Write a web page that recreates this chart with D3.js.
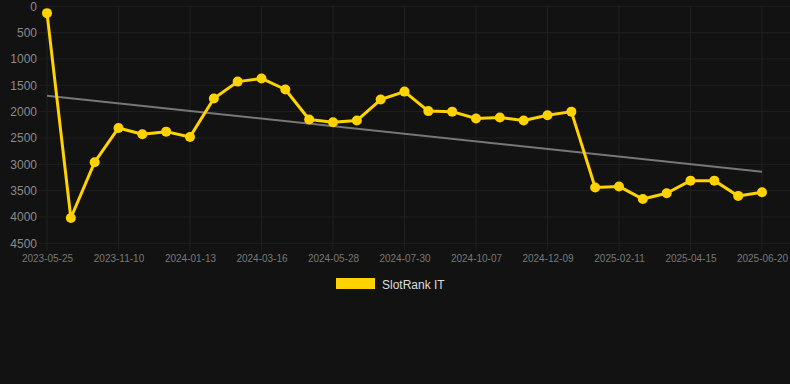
<!DOCTYPE html>
<html>
<head>
<meta charset="utf-8">
<script src="https://cdn.jsdelivr.net/npm/d3@7"></script>
<style>
  html, body { margin: 0; padding: 0; background: #121212; }
  svg { display: block; }
</style>
</head>
<body>
<svg id="chart" width="790" height="384"></svg>
<script>
// ---- data ----
const seriesName = "SlotRank IT";
const ranks = [130, 4020, 2960, 2310, 2430, 2380, 2480, 1750, 1430, 1370, 1580,
               2150, 2200, 2170, 1770, 1620, 1990, 2000, 2130, 2110, 2170, 2070,
               2000, 3440, 3420, 3660, 3550, 3310, 3310, 3600, 3530];
const tickLabels = ["2023-05-25", "2023-11-10", "2024-01-13", "2024-03-16", "2024-05-28",
                    "2024-07-30", "2024-10-07", "2024-12-09", "2025-02-11", "2025-04-15", "2025-06-20"];
const tickEvery = 3;
const yTicks = [0, 500, 1000, 1500, 2000, 2500, 3000, 3500, 4000, 4500];

// ---- layout ----
const svg = d3.select("#chart");
const W = 790, H = 384;
const plotLeft = 47, plotRight = 762, plotTop = 6.3, plotBottom = 243.3;
const gridColor = "#202020";
const lineColor = "#FFD200";

svg.append("rect").attr("width", W).attr("height", H).attr("fill", "#121212");

const idx = d3.range(ranks.length);
const x = d3.scalePoint().domain(idx).range([plotLeft, plotRight]);
const y = d3.scaleLinear().domain([0, 4500]).range([plotTop, plotBottom]);

// horizontal grid
svg.append("g").selectAll("line").data(yTicks).join("line")
  .attr("x1", plotLeft - 8).attr("x2", 790)
  .attr("y1", d => y(d)).attr("y2", d => y(d))
  .attr("stroke", gridColor).attr("stroke-width", 1);

// vertical grid
const xTickIdx = idx.filter(i => i % tickEvery === 0);
svg.append("g").selectAll("line").data(xTickIdx).join("line")
  .attr("x1", d => x(d)).attr("x2", d => x(d))
  .attr("y1", plotTop).attr("y2", plotBottom + 7)
  .attr("stroke", gridColor).attr("stroke-width", 1);

// y axis
const yAxis = svg.append("g")
  .attr("transform", `translate(${plotLeft - 10},0)`)
  .call(d3.axisLeft(y).tickValues(yTicks).tickFormat(d3.format("d")).tickSize(0).tickPadding(0));
yAxis.select(".domain").remove();
yAxis.selectAll("text")
  .attr("fill", "#8a8a8a")
  .attr("font-family", "Liberation Sans, Arial, sans-serif")
  .attr("font-size", 12);

// x axis
const xAxis = svg.append("g")
  .attr("transform", `translate(0,${plotBottom})`)
  .call(d3.axisBottom(x).tickValues(xTickIdx)
    .tickFormat(d => tickLabels[d / tickEvery]).tickSize(0).tickPadding(12));
xAxis.select(".domain").remove();
xAxis.selectAll("text")
  .attr("fill", "#777")
  .attr("font-family", "Liberation Sans, Arial, sans-serif")
  .attr("font-size", 10);

// trend line (least squares fit of the series)
const n = ranks.length;
const mx = d3.mean(idx), my = d3.mean(ranks);
const slope = d3.sum(idx, i => (i - mx) * (ranks[i] - my)) / d3.sum(idx, i => (i - mx) ** 2);
const icpt = my - slope * mx;
svg.append("line")
  .attr("x1", x(0)).attr("y1", y(icpt))
  .attr("x2", x(n - 1)).attr("y2", y(icpt + slope * (n - 1)))
  .attr("stroke", "#777").attr("stroke-width", 2);

// series line
svg.append("path")
  .datum(idx)
  .attr("fill", "none")
  .attr("stroke", lineColor)
  .attr("stroke-width", 3)
  .attr("stroke-linejoin", "round")
  .attr("d", d3.line().x(i => x(i)).y(i => y(ranks[i])));

svg.append("g").selectAll("circle").data(idx).join("circle")
  .attr("cx", i => x(i)).attr("cy", i => y(ranks[i]))
  .attr("r", 5).attr("fill", lineColor);

// legend
const lg = svg.append("g");
lg.append("rect").attr("x", 336).attr("y", 278).attr("width", 39).attr("height", 11)
  .attr("fill", lineColor);
lg.append("text").attr("x", 382).attr("y", 288.5)
  .attr("fill", "#dddddd")
  .attr("font-family", "Liberation Sans, Arial, sans-serif")
  .attr("font-size", 12)
  .text(seriesName);
</script>
</body>
</html>
